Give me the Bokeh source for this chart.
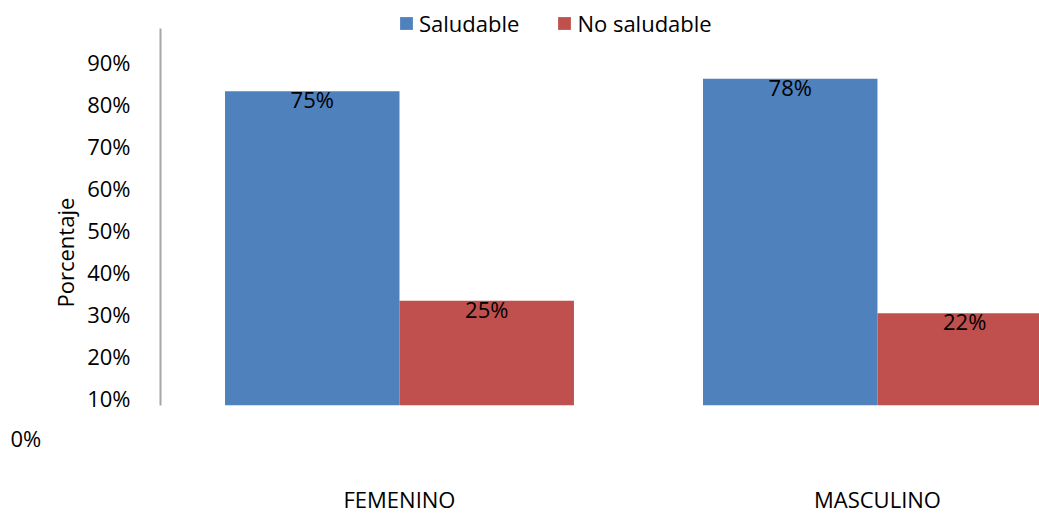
from bokeh.plotting import figure
from bokeh.models import ColumnDataSource, Range1d, FixedTicker, Legend, LegendItem, Title
from bokeh.embed import file_html
from bokeh.resources import INLINE
from bokeh.core.properties import value

# ---- data ----
categories = ["FEMENINO", "MASCULINO"]
series_names = ["Saludable", "No saludable"]
saludable = [0.75, 0.78]
no_saludable = [0.25, 0.22]
saludable_labels = ["75%", "78%"]
no_saludable_labels = ["25%", "22%"]
y_tick_labels = ["10%", "20%", "30%", "40%", "50%", "60%", "70%", "80%", "90%"]
zero_label = "0%"
y_title = "Porcentaje"
y_max = 0.9

# ---- style ----
FONT = "Open Sans"
FS = "22px"
COLORS = ["#4F81BD", "#C0504D"]
BAR_W = 0.365
LABEL_SHIFT = 0.081   # tick labels appear drawn below their gridline position
TOP_PAD = 0.0547      # room above the axis for the legend

centers = [i + 0.5 for i in range(len(categories))]
src_a = ColumnDataSource(dict(x=[c - BAR_W / 2 for c in centers], top=saludable, label=saludable_labels))
src_b = ColumnDataSource(dict(x=[c + BAR_W / 2 for c in centers], top=no_saludable, label=no_saludable_labels))

p = figure(width=1039, height=516, output_backend="svg", toolbar_location=None,
           x_range=Range1d(0, 1.839), y_range=Range1d(0, y_max + TOP_PAD),
           min_border_left=160, min_border_right=0, min_border_top=5, min_border_bottom=111)
p.outline_line_color = None
p.xgrid.visible = False
p.ygrid.visible = False
p.background_fill_color = "white"

r1 = p.vbar(x="x", top="top", bottom=0, width=BAR_W, source=src_a, fill_color=COLORS[0], line_color=None)
r2 = p.vbar(x="x", top="top", bottom=0, width=BAR_W, source=src_b, fill_color=COLORS[1], line_color=None)

for src in (src_a, src_b):
    p.text(x="x", y="top", text="label", source=src, text_align="center", text_baseline="middle",
           y_offset=8, text_font=value(FONT), text_font_size=FS, text_color="black")

# y axis
yt = [(i + 1) / 10 - LABEL_SHIFT for i in range(len(y_tick_labels))]
p.yaxis.ticker = FixedTicker(ticks=yt)
p.yaxis.major_label_overrides = {t: lab for t, lab in zip(yt, y_tick_labels)}
p.yaxis.bounds = (0, y_max)
p.yaxis.axis_line_color = "#A6A6A6"
p.yaxis.axis_line_width = 2
p.yaxis.major_tick_line_color = None
p.yaxis.minor_tick_line_color = None
p.yaxis.major_tick_out = 0
p.yaxis.major_tick_in = 0
p.yaxis.major_label_standoff = 30
p.yaxis.major_label_text_font = FONT
p.yaxis.major_label_text_font_size = FS
p.yaxis.major_label_text_color = "black"

# y title (shifted down like the tick labels)
p.add_layout(Title(text=y_title, align="left", offset=98, standoff=10,
                   text_font=FONT, text_font_size=FS, text_font_style="normal",
                   text_color="black"), "left")

# x axis
xt = centers
p.xaxis.ticker = FixedTicker(ticks=xt)
p.xaxis.major_label_overrides = {t: lab for t, lab in zip(xt, categories)}
p.xaxis.axis_line_color = None
p.xaxis.major_tick_line_color = None
p.xaxis.minor_tick_line_color = None
p.xaxis.major_tick_out = 0
p.xaxis.major_tick_in = 0
p.xaxis.major_label_standoff = 14
p.xaxis.major_label_text_font = FONT
p.xaxis.major_label_text_font_size = FS
p.xaxis.major_label_text_color = "black"

# stray "0%" label, left of the axis below the baseline (closest panel under the plot)
zero_title = Title(text=zero_label, align="left", offset=-150, standoff=32, vertical_align="middle",
                   text_font=FONT, text_font_size=FS, text_font_style="normal", text_color="black")
p.below = [zero_title] + list(p.below)

legend = Legend(items=[LegendItem(label=series_names[0], renderers=[r1]),
                       LegendItem(label=series_names[1], renderers=[r2])],
                orientation="horizontal", location=(238, 367), glyph_width=16, glyph_height=16,
                label_standoff=5, spacing=37, padding=0, margin=0, border_line_color=None,
                background_fill_alpha=0, label_text_font=FONT, label_text_font_size=FS,
                label_text_color="black")
p.add_layout(legend)

open("out.html", "w").write(file_html(p, INLINE))
